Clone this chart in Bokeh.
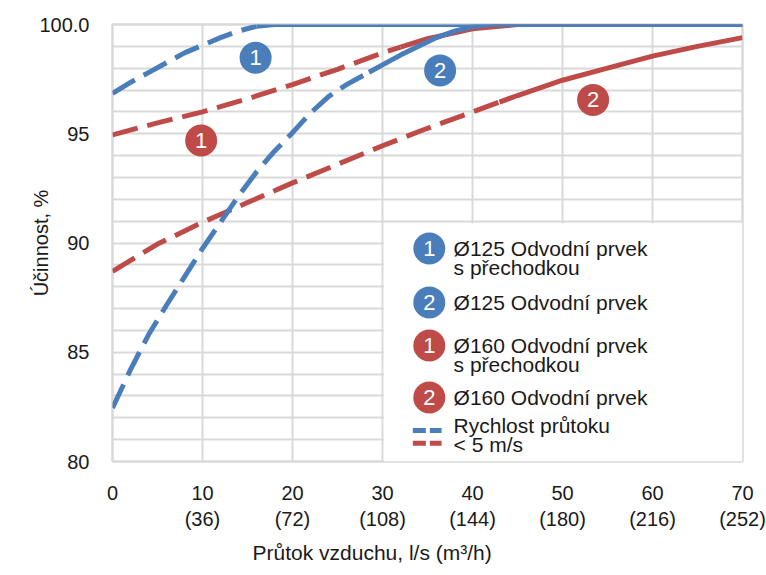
import numpy as np
from bokeh.plotting import figure
from bokeh.models import Range1d, FixedTicker, Title, ColumnDataSource
from bokeh.core.properties import value
from bokeh.embed import file_html
from bokeh.resources import INLINE

# ---------------- data ----------------
# Ø125 Odvodní prvek s přechodkou (blue 1)
b1_x = [0, 2, 4, 6, 8, 10, 12, 14, 16, 18, 30, 50, 70]
b1_y = [96.85, 97.35, 97.8, 98.25, 98.7, 99.05, 99.4, 99.7, 99.92, 100, 100, 100, 100]
b1_limit = 16.0      # flow where velocity reaches 5 m/s

# Ø125 Odvodní prvek (blue 2)
b2_x = [0, 2, 4, 6, 8, 10, 12, 14, 16, 18, 20, 22, 24, 26, 28, 30, 32, 34, 36, 38, 40, 42, 50, 60, 70]
b2_y = [82.45, 84.2, 85.8, 87.15, 88.45, 89.75, 90.95, 92.15, 93.25, 94.2, 95.05, 95.95, 96.7,
        97.25, 97.7, 98.15, 98.6, 99.0, 99.4, 99.7, 99.9, 100, 100, 100, 100]
b2_limit = 28.5

# Ø160 Odvodní prvek s přechodkou (red 1)
r1_x = [0, 5, 10, 15, 20, 25, 30, 35, 40, 45, 50, 60, 70]
r1_y = [94.95, 95.5, 96.0, 96.6, 97.25, 97.95, 98.7, 99.35, 99.8, 100, 100, 100, 100]
r1_limit = 32.0

# Ø160 Odvodní prvek (red 2)
r2_x = [0, 5, 10, 15, 20, 25, 30, 35, 40, 45, 50, 55, 60, 65, 70]
r2_y = [88.7, 89.95, 90.95, 91.85, 92.75, 93.6, 94.45, 95.25, 96.0, 96.75, 97.45, 98.0, 98.55, 99.0, 99.4]
r2_limit = 43.0

# numbered badge positions on the curves
badge_x = [15.9, 36.4, 9.85, 53.4]
badge_y = [98.48, 97.9, 94.69, 96.55]
badge_num = ["1", "2", "1", "2"]

x_ticks = [0, 10, 20, 30, 40, 50, 60, 70]
x_tick_labels = ["0", "10\n(36)", "20\n(72)", "30\n(108)", "40\n(144)", "50\n(180)", "60\n(216)", "70\n(252)"]
y_ticks = [80, 85, 90, 95, 100]
y_tick_labels = ["80", "85", "90", "95", "100.0"]

legend_names = [["Ø125 Odvodní prvek", "s přechodkou"], ["Ø125 Odvodní prvek"],
                ["Ø160 Odvodní prvek", "s přechodkou"], ["Ø160 Odvodní prvek"]]
legend_note = ["Rychlost průtoku", "< 5 m/s"]

BLUE = "#4a7ebb"
RED = "#be4b48"
GRID = "#d9d9d9"
FONT = "Liberation Sans"

# ---------------- figure ----------------
p = figure(width=766, height=575, output_backend="svg", toolbar_location=None,
           x_range=Range1d(0, 70), y_range=Range1d(80, 100),
           min_border_left=112, min_border_right=24, min_border_top=24, min_border_bottom=114)
p.background_fill_color = "white"
p.border_fill_color = "white"
p.outline_line_color = GRID
p.outline_line_width = 2.5

p.xaxis.ticker = FixedTicker(ticks=x_ticks)
p.yaxis.ticker = FixedTicker(ticks=y_ticks)
p.xaxis.major_label_overrides = {t: l for t, l in zip(x_ticks, x_tick_labels)}
p.yaxis.major_label_overrides = {t: l for t, l in zip(y_ticks, y_tick_labels)}
p.xgrid.ticker = FixedTicker(ticks=x_ticks)
p.ygrid.ticker = FixedTicker(ticks=list(range(80, 101)))
for g in (p.xgrid, p.ygrid):
    g.grid_line_color = GRID
    g.grid_line_width = 2
for ax in (p.xaxis, p.yaxis):
    ax.axis_line_color = None
    ax.major_tick_line_color = None
    ax.minor_tick_line_color = None
    ax.major_label_text_font = FONT
    ax.major_label_text_font_size = "20px"
    ax.major_label_text_color = "#1a1a1a"
p.xaxis.major_label_standoff = 14
p.yaxis.major_label_standoff = 17

p.yaxis.axis_label = "Účinnost, %"
p.yaxis.axis_label_text_font = FONT
p.yaxis.axis_label_text_font_size = "20px"
p.yaxis.axis_label_text_font_style = "normal"
p.yaxis.axis_label_text_color = "#1a1a1a"
p.yaxis.axis_label_standoff = -16

xt = Title(text="Průtok vzduchu, l/s (m³/h)", align="left", offset=140,
           text_font=FONT, text_font_size="21px", text_font_style="normal",
           text_color="#1a1a1a", standoff=13)
p.add_layout(xt, "below")

# legend backdrop (covers grid in the lower-right area)
p.quad(left=30.15, right=70, bottom=80, top=90.9, fill_color="white", line_color=None)


def draw_series(xs, ys, limit, color):
    xs = np.asarray(xs, float)
    ys = np.asarray(ys, float)
    ylim = np.interp(limit, xs, ys)
    m1 = xs < limit
    dx = np.append(xs[m1], limit)
    dy = np.append(ys[m1], ylim)
    m2 = xs > limit
    sx = np.insert(xs[m2], 0, limit)
    sy = np.insert(ys[m2], 0, ylim)
    p.line(dx, dy, line_color=color, line_width=5, line_dash="26 10")
    p.line(sx, sy, line_color=color, line_width=5)


draw_series(r2_x, r2_y, r2_limit, RED)
draw_series(r1_x, r1_y, r1_limit, RED)
draw_series(b2_x, b2_y, b2_limit, BLUE)
draw_series(b1_x, b1_y, b1_limit, BLUE)

badge_colors = [BLUE, BLUE, RED, RED]
bsrc = ColumnDataSource(dict(x=badge_x, y=badge_y, t=badge_num, c=badge_colors))
p.scatter("x", "y", source=bsrc, size=32, fill_color="c", line_color=None)
p.text("x", "y", text="t", source=bsrc, text_color="white", text_align="center",
       text_baseline="middle", text_font=value(FONT), text_font_size="22px")

# ---------------- legend ----------------
leg_cx = [35.2, 35.2, 35.2, 35.2]
leg_cy = [89.75, 87.28, 85.31, 82.93]
lsrc = ColumnDataSource(dict(x=leg_cx, y=leg_cy, t=badge_num, c=badge_colors))
p.scatter("x", "y", source=lsrc, size=32, fill_color="c", line_color=None)
p.text("x", "y", text="t", source=lsrc, text_color="white", text_align="center",
       text_baseline="middle", text_font=value(FONT), text_font_size="22px")

line_gap = 0.88
tx, ty, tt = [], [], []
for cy, names in zip(leg_cy, legend_names):
    for i, n in enumerate(names):
        tx.append(37.9)
        ty.append(cy - i * line_gap)
        tt.append(n)
tx += [37.9, 37.9]
ty += [81.65, 80.78]
tt += legend_note
p.text(tx, ty, text=tt, text_color="#1a1a1a", text_align="left", text_baseline="middle",
       text_font=value(FONT), text_font_size="21px")

p.line([33.37, 36.56], [81.42, 81.42], line_color=BLUE, line_width=5, line_dash="13 4")
p.line([33.37, 36.56], [80.84, 80.84], line_color=RED, line_width=5, line_dash="13 4")

open("out.html", "w").write(file_html(p, INLINE))
